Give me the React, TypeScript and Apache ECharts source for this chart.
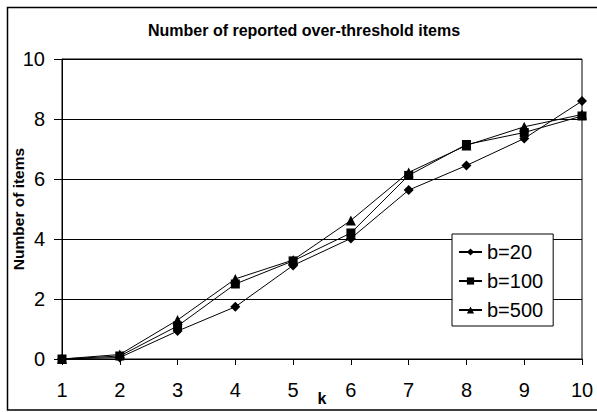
import React, { useEffect, useRef } from "react";
import * as echarts from "echarts";

const categories = ["1", "2", "3", "4", "5", "6", "7", "8", "9", "10"];
const b20 = [0, 0.05, 0.93, 1.74, 3.12, 4.02, 5.63, 6.45, 7.35, 8.6];
const b100 = [0, 0.1, 1.1, 2.5, 3.27, 4.2, 6.12, 7.15, 7.55, 8.1];
const b500 = [0, 0.15, 1.3, 2.67, 3.3, 4.62, 6.22, 7.12, 7.74, 8.15];
const seriesNames = ["b=20", "b=100", "b=500"];

const FONT = "'Liberation Sans', Arial, sans-serif";

export default function App() {
  const ref = useRef<HTMLDivElement>(null);
  useEffect(() => {
    document.body.style.margin = "0";
    if (!ref.current) return;
    const chart = echarts.init(ref.current, null, { renderer: "svg" });
    const mk = (name: string, data: number[], symbol: string, size: number) => ({
      name,
      type: "line",
      data,
      symbol,
      symbolSize: size,
      showSymbol: true,
      color: "#000",
      lineStyle: { color: "#000", width: 1 },
      itemStyle: { color: "#000" },
    });
    chart.setOption({
      animation: false,
      backgroundColor: "#fff",
      textStyle: { fontFamily: FONT },
      grid: {
        left: 62,
        right: 15,
        top: 59,
        bottom: 53,
        outerBoundsMode: "none",
        containLabel: false,
        show: true,
        borderColor: "#000",
        borderWidth: 1,
        backgroundColor: "transparent",
      },
      graphic: [
        {
          type: "rect",
          shape: { x: 7.5, y: 7.5, width: 620, height: 402.5 },
          style: { fill: "none", stroke: "#000", lineWidth: 1.5 },
          silent: true,
        },
        {
          type: "text",
          x: 304,
          y: 30,
          style: {
            text: "Number of reported over-threshold items",
            font: `bold 16px ${FONT}`,
            fill: "#000",
            textAlign: "center",
            textVerticalAlign: "middle",
          },
        },
      ],
      legend: {
        orient: "vertical",
        left: 452,
        top: 234,
        padding: [7, 10, 5, 6],
        itemGap: 7,
        itemWidth: 23,
        itemHeight: 9,
        backgroundColor: "#fff",
        borderColor: "#000",
        borderWidth: 1,
        borderRadius: 0,
        data: seriesNames,
        textStyle: { fontSize: 20, lineHeight: 22, color: "#000", fontFamily: FONT, padding: [0, 0, 0, 0] },
      },
      xAxis: {
        type: "category",
        data: categories,
        boundaryGap: false,
        name: "k",
        nameLocation: "middle",
        nameGap: 31,
        nameMoveOverlap: false,
        nameTextStyle: { fontSize: 16, fontWeight: "bold", color: "#000", fontFamily: FONT },
        axisLine: { show: true, lineStyle: { color: "#000", width: 1 } },
        axisTick: { show: true, length: 6, inside: false, lineStyle: { color: "#000" } },
        axisLabel: { fontSize: 20, color: "#000", margin: 21, fontFamily: FONT },
        splitLine: { show: false },
      },
      yAxis: {
        type: "value",
        min: 0,
        max: 10,
        interval: 2,
        name: "Number of items",
        nameLocation: "middle",
        nameRotate: 90,
        nameGap: 36,
        nameMoveOverlap: false,
        nameTextStyle: { fontSize: 15.5, fontWeight: "bold", color: "#000", fontFamily: FONT },
        axisLine: { show: true, lineStyle: { color: "#000", width: 1 } },
        axisTick: { show: true, length: 8, inside: false, lineStyle: { color: "#000" } },
        axisLabel: { fontSize: 20, color: "#000", margin: 17, fontFamily: FONT },
        splitLine: { show: true, lineStyle: { color: "#000", width: 1 } },
      },
      series: [
        mk("b=20", b20, "diamond", 10),
        mk("b=100", b100, "rect", 9),
        mk("b=500", b500, "triangle", 10),
      ],
    });
    return () => chart.dispose();
  }, []);
  return <div ref={ref} style={{ width: 597, height: 412 }} />;
}
